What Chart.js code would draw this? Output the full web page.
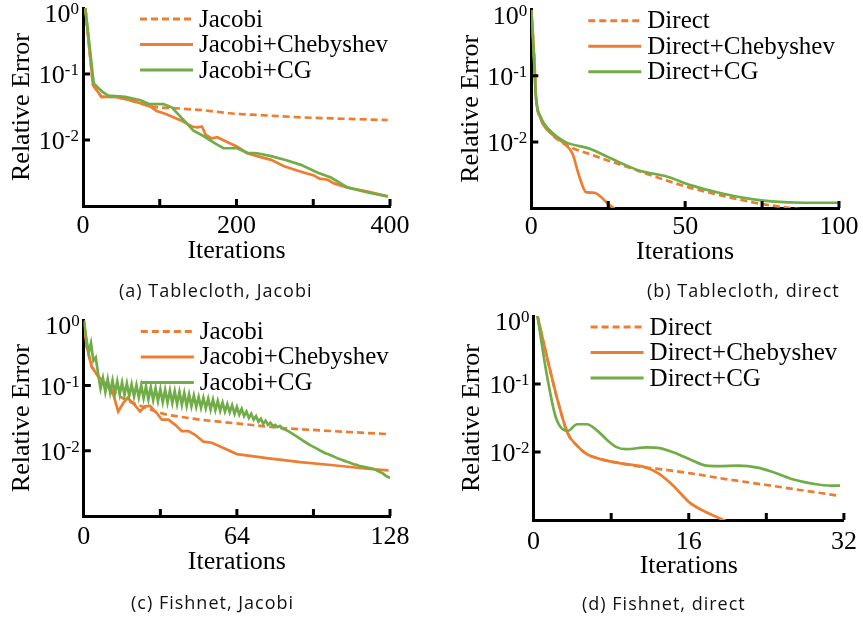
<!DOCTYPE html>
<html>
<head>
<meta charset="utf-8">
<script src="https://cdn.jsdelivr.net/npm/chart.js@4.4.1/dist/chart.umd.min.js"></script>
<style>
  html, body { margin: 0; padding: 0; background: #fff; }
  #page { position: relative; width: 863px; height: 619px; overflow: hidden; }
  canvas { position: absolute; }
  .cap { position: absolute; font: 18px 'Open Sans', Lato, sans-serif; letter-spacing: 1px; color: #111; white-space: nowrap; line-height: 20px; }
</style>
</head>
<body>
<div id="page">
  <canvas id="chartA" width="430" height="300" style="left:0;top:0"></canvas>
  <canvas id="chartB" width="433" height="300" style="left:430px;top:0"></canvas>
  <canvas id="chartC" width="430" height="319" style="left:0;top:300px"></canvas>
  <canvas id="chartD" width="433" height="319" style="left:430px;top:300px"></canvas>
  <div class="cap" style="left:119px;top:280px">(a) Tablecloth, Jacobi</div>
  <div class="cap" style="left:647px;top:280px">(b) Tablecloth, direct</div>
  <div class="cap" style="left:131px;top:592px">(c) Fishnet, Jacobi</div>
  <div class="cap" style="left:582px;top:593px">(d) Fishnet, direct</div>
</div>
<script>
const ORANGE = '#ED7D31';
const GREEN  = '#70AD47';
const SERIF  = "'Liberation Serif', 'Times New Roman', serif";

// ── Shared y axis ─────────────────────────────────────────────
const yTickValues    = [1, 0.1, 0.01];
const yTickExponents = ['0', '-1', '-2'];
const yTickMarks     = [0.1, 0.01];

// ── (a) Tablecloth, Jacobi ────────────────────────────────────
const aTickLabels = [0, 200, 400];
const aTickMarks  = [100, 200, 300, 400];
const aJacobiIter = [3, 13, 24, 42, 55, 75, 88, 100, 127, 160, 197, 240, 284, 340, 397];
const aJacobiErr  = [1.0, 0.068, 0.045, 0.045, 0.042, 0.036, 0.032, 0.031, 0.030, 0.028, 0.025, 0.0235, 0.022, 0.021, 0.020];
const aChebIter   = [3, 13, 24, 42, 55, 75, 88, 96, 107, 127, 142, 149, 155, 160, 168, 175, 183, 201, 214, 227, 245, 262, 284, 301, 308, 319, 327, 345, 371, 397];
const aChebErr    = [1.0, 0.068, 0.045, 0.045, 0.042, 0.036, 0.032, 0.0275, 0.025, 0.020, 0.016, 0.0155, 0.016, 0.0119, 0.0106, 0.011, 0.0099, 0.0079, 0.0063, 0.0057, 0.005, 0.0040, 0.0033, 0.0029, 0.0026, 0.0025, 0.0022, 0.0019, 0.00165, 0.0014];
const aCgIter     = [3, 14, 25, 33, 55, 75, 86, 105, 116, 133, 144, 157, 172, 183, 201, 214, 227, 245, 266, 284, 306, 323, 345, 371, 397];
const aCgErr      = [1.0, 0.072, 0.054, 0.047, 0.045, 0.040, 0.035, 0.035, 0.031, 0.019, 0.0138, 0.0115, 0.0089, 0.0075, 0.0075, 0.0064, 0.0063, 0.0057, 0.0049, 0.0042, 0.0032, 0.0027, 0.0019, 0.0016, 0.0014];

// ── (b) Tablecloth, direct ────────────────────────────────────
const bTickLabels = [0, 50, 100];
const bTickMarks  = [25, 50, 75, 100];
const bDirectIter = [0, 1, 1.5, 3, 6, 11, 20, 31, 42, 52, 63, 74, 88, 100];
const bDirectErr  = [1.0, 0.17, 0.05, 0.023, 0.014, 0.0092, 0.0063, 0.0042, 0.0028, 0.0020, 0.0015, 0.00117, 0.00095, 0.0008];
const bChebIter   = [0, 1, 1.5, 3, 6, 11, 13.4, 15.6, 17.8, 20.5, 22.6, 24.8, 27.5, 30];
const bChebErr    = [1.0, 0.17, 0.05, 0.023, 0.014, 0.0092, 0.0066, 0.0030, 0.00174, 0.0017, 0.00148, 0.00117, 0.00093, 0.0007];
const bCgIter     = [0, 1, 1.5, 3, 6, 11, 19, 26, 35, 44, 52, 61, 70, 78, 89, 100];
const bCgErr      = [1.0, 0.137, 0.048, 0.024, 0.015, 0.010, 0.0079, 0.0056, 0.0037, 0.0030, 0.0022, 0.0017, 0.0014, 0.00126, 0.0012, 0.0012];

// ── (c) Fishnet, Jacobi ───────────────────────────────────────
const cTickLabels = [0, 64, 128];
const cTickMarks  = [32, 64, 96, 128];
const cJacobiIter = [0, 1.2, 3.3, 6.1, 9.6, 12.4, 16, 20, 25, 30, 35, 48.6, 62.5, 83.5, 104.4, 127.4];
const cJacobiErr  = [1.0, 0.40, 0.195, 0.137, 0.103, 0.08, 0.065, 0.055, 0.047, 0.040, 0.0355, 0.030, 0.0266, 0.0222, 0.020, 0.018];
const cChebIter   = [0, 1.2, 3.3, 6.1, 9.6, 12.4, 14.4, 16.5, 18.3, 21.4, 23.5, 25.6, 27.7, 30.5, 32.6, 35.4, 38.2, 41, 43.8, 46.5, 50, 53.5, 58.4, 64, 76.5, 90.5, 104.4, 118.4, 127.4];
const cChebErr    = [1.0, 0.40, 0.195, 0.137, 0.103, 0.072, 0.040, 0.054, 0.065, 0.050, 0.040, 0.048, 0.049, 0.038, 0.030, 0.030, 0.025, 0.020, 0.020, 0.0176, 0.0138, 0.0133, 0.011, 0.0089, 0.0077, 0.0067, 0.0060, 0.0053, 0.0050];
// one value per iteration, 0..128
const cCgErr = [
  1.0, 0.55, 0.32, 0.45, 0.24, 0.27, 0.15, 0.09,
  0.13, 0.08, 0.125, 0.078, 0.12, 0.076, 0.116, 0.074, 0.112, 0.072, 0.108, 0.07,
  0.105, 0.068, 0.102, 0.066, 0.10, 0.064, 0.097, 0.062, 0.094, 0.060,
  0.091, 0.058, 0.088, 0.056, 0.086, 0.055, 0.084, 0.054, 0.082, 0.052,
  0.080, 0.051, 0.077, 0.049, 0.073, 0.048, 0.07, 0.047, 0.067, 0.046,
  0.065, 0.045, 0.063, 0.043, 0.061, 0.042, 0.058, 0.041, 0.055, 0.040,
  0.052, 0.039, 0.05, 0.037, 0.047, 0.036, 0.044, 0.034, 0.04, 0.032,
  0.037, 0.030, 0.034, 0.028, 0.031, 0.026, 0.029, 0.025, 0.027, 0.024,
  0.025, 0.023, 0.024, 0.022, 0.0213, 0.0205, 0.0195, 0.0185, 0.0175, 0.0166,
  0.0156, 0.0148, 0.0140, 0.0133, 0.0126, 0.0120, 0.0115, 0.0110, 0.0105, 0.0100,
  0.0096, 0.0092, 0.0089, 0.0086, 0.0083, 0.0080, 0.0077, 0.0075, 0.0072, 0.0070,
  0.0068, 0.0066, 0.0064, 0.0062, 0.0061, 0.0059, 0.0058, 0.0057, 0.0056, 0.0055,
  0.0054, 0.0053, 0.0051, 0.0049, 0.0047, 0.0045, 0.0042, 0.0040, 0.0038
];

// ── (d) Fishnet, direct ───────────────────────────────────────
const dTickLabels = [0, 16, 32];
const dTickMarks  = [8, 16, 24, 32];
const dDirectIter = [0.4, 1.5, 2.5, 3.5, 4.5, 5.5, 7.0, 9.0, 11.6, 13, 16.4, 19.8, 23.2, 26.5, 31.2];
const dDirectErr  = [1.0, 0.21, 0.056, 0.019, 0.0123, 0.0093, 0.0078, 0.0068, 0.0059, 0.0056, 0.0048, 0.0040, 0.0034, 0.0029, 0.0023];
const dChebIter   = [0.4, 1.5, 2.5, 3.5, 4.5, 5.5, 7.0, 9.0, 11.6, 12.9, 14.4, 16.1, 17.8, 20.1, 22];
const dChebErr    = [1.0, 0.21, 0.056, 0.019, 0.0123, 0.0093, 0.0078, 0.0068, 0.0059, 0.0048, 0.0032, 0.0018, 0.0013, 0.00093, 0.0007];
const dCgIter     = [0.4, 1.3, 2.3, 3.5, 4.5, 5.5, 6.5, 7.7, 8.5, 9.5, 11.7, 13, 14.4, 16.1, 17.8, 19.1, 21.1, 23.1, 24.8, 26.9, 28.9, 30.6, 31.6];
const dCgErr      = [1.0, 0.154, 0.032, 0.0204, 0.0256, 0.0256, 0.021, 0.0145, 0.0119, 0.011, 0.0117, 0.0114, 0.0099, 0.0078, 0.0063, 0.0062, 0.0063, 0.0059, 0.0050, 0.0039, 0.0034, 0.0032, 0.0032];

// ── Helpers ───────────────────────────────────────────────────
const pts = (xs, ys) => xs.map((x, i) => ({ x, y: ys[i] }));

function series(label, xs, ys, color, dashed, order, smooth) {
  return {
    label,
    data: pts(xs, ys),
    borderColor: color,
    borderWidth: 2.7,
    borderDash: dashed ? [7, 4] : [],
    pointRadius: 0,
    fill: false,
    order,
    tension: 0,
    cubicInterpolationMode: smooth ? 'monotone' : 'default',
  };
}

// inward tick marks + 10^n labels
const axisDecor = {
  id: 'axisDecor',
  afterDraw(chart, args, opts) {
    const { ctx, chartArea: ca, scales: { x, y } } = chart;
    ctx.save();
    ctx.strokeStyle = '#000';
    ctx.lineWidth = 3;
    ctx.beginPath();
    for (const v of opts.xMarks) {
      const px = x.getPixelForValue(v);
      ctx.moveTo(px, ca.bottom);
      ctx.lineTo(px, ca.bottom - 7);
    }
    for (const v of yTickMarks) {
      const py = y.getPixelForValue(v);
      ctx.moveTo(ca.left, py);
      ctx.lineTo(ca.left + 7, py);
    }
    ctx.stroke();

    ctx.fillStyle = '#000';
    ctx.textAlign = 'right';
    ctx.textBaseline = 'alphabetic';
    yTickValues.forEach((v, i) => {
      const py = Math.max(y.getPixelForValue(v), ca.top + 5);
      const right = ca.left - 4;
      ctx.font = `17px ${SERIF}`;
      const ew = ctx.measureText(yTickExponents[i]).width;
      ctx.fillText(yTickExponents[i], right, py + 1);
      ctx.font = `26px ${SERIF}`;
      ctx.fillText('10', right - ew, py + 9);
    });
    ctx.restore();
  }
};

// legend drawn inside the plot area
const innerLegend = {
  id: 'innerLegend',
  afterDatasetsDraw(chart) {
    const { ctx, chartArea: ca } = chart;
    ctx.save();
    chart.data.datasets.forEach((ds, i) => {
      const yy = ca.top + 11 + i * 25.5;
      ctx.strokeStyle = ds.borderColor;
      ctx.lineWidth = 3;
      ctx.setLineDash(ds.borderDash);
      ctx.beginPath();
      ctx.moveTo(ca.left + 57, yy);
      ctx.lineTo(ca.left + 110, yy);
      ctx.stroke();
      ctx.setLineDash([]);
      ctx.fillStyle = '#000';
      ctx.font = `25px ${SERIF}`;
      ctx.textAlign = 'left';
      ctx.textBaseline = 'middle';
      ctx.fillText(ds.label, ca.left + 116, yy + 1);
    });
    ctx.restore();
  }
};

function makeChart(id, g, datasets, xMax, xLabels, xMarks) {
  const padL = Math.max(0, g.yTitleX - 22);
  return new Chart(document.getElementById(id), {
    type: 'line',
    data: { datasets },
    options: {
      responsive: false,
      animation: false,
      events: [],
      layout: { padding: { left: padL, top: g.T, right: g.W - g.R, bottom: 0 } },
      plugins: {
        legend: { display: false },
        tooltip: { enabled: false },
        axisDecor: { xMarks },
      },
      scales: {
        x: {
          type: 'linear',
          min: 0,
          max: xMax,
          afterBuildTicks: (s) => { s.ticks = xLabels.map(v => ({ value: v })); },
          afterFit: (s) => { s.height = g.H - g.B; },
          grid: { display: false, drawTicks: false },
          border: { color: '#000', width: 3 },
          ticks: {
            color: '#000',
            font: { family: SERIF, size: 26 },
            padding: g.xLabelY - g.B - 15.6,
            maxRotation: 0,
            autoSkip: false,
          },
          title: {
            display: true,
            text: 'Iterations',
            color: '#000',
            font: { family: SERIF, size: 26 },
            padding: { top: 0, bottom: g.H - 15.6 - g.xTitleY },
          },
        },
        y: {
          type: 'logarithmic',
          min: 0.001,
          max: 1,
          afterFit: (s) => { s.width = g.L - padL; },
          grid: { display: false, drawTicks: false },
          border: { color: '#000', width: 3 },
          ticks: { display: false },
          title: {
            display: true,
            text: 'Relative Error',
            color: '#000',
            font: { family: SERIF, size: 26 },
            padding: { top: g.yTitleX - padL - 15.6, bottom: 0 },
          },
        },
      },
    },
    plugins: [axisDecor, innerLegend],
  });
}

// ── Build ─────────────────────────────────────────────────────
makeChart('chartA',
  { W: 430, H: 300, L: 83, R: 390, T: 8, B: 206, yTitleX: 22, xTitleY: 251.5, xLabelY: 226 },
  [
    series('Jacobi', aJacobiIter, aJacobiErr, ORANGE, true, 2, false),
    series('Jacobi+Chebyshev', aChebIter, aChebErr, ORANGE, false, 1, false),
    series('Jacobi+CG', aCgIter, aCgErr, GREEN, false, 0, false),
  ], 400, aTickLabels, aTickMarks);

makeChart('chartB',
  { W: 433, H: 300, L: 101.3, R: 409, T: 9.7, B: 208, yTitleX: 41, xTitleY: 252, xLabelY: 226.7 },
  [
    series('Direct', bDirectIter, bDirectErr, ORANGE, true, 2, true),
    series('Direct+Chebyshev', bChebIter, bChebErr, ORANGE, false, 1, true),
    series('Direct+CG', bCgIter, bCgErr, GREEN, false, 0, true),
  ], 100, bTickLabels, bTickMarks);

makeChart('chartC',
  { W: 430, H: 319, L: 83.8, R: 390, T: 20.4, B: 216, yTitleX: 21.7, xTitleY: 261.7, xLabelY: 237.5 },
  [
    series('Jacobi', cJacobiIter, cJacobiErr, ORANGE, true, 2, false),
    series('Jacobi+Chebyshev', cChebIter, cChebErr, ORANGE, false, 1, false),
    series('Jacobi+CG', cCgErr.map((_, i) => i), cCgErr, GREEN, false, 0, false),
  ], 128, cTickLabels, cTickMarks);

makeChart('chartD',
  { W: 433, H: 319, L: 103.6, R: 421, T: 16, B: 220, yTitleX: 41.7, xTitleY: 266, xLabelY: 241.7 },
  [
    series('Direct', dDirectIter, dDirectErr, ORANGE, true, 2, true),
    series('Direct+Chebyshev', dChebIter, dChebErr, ORANGE, false, 1, true),
    series('Direct+CG', dCgIter, dCgErr, GREEN, false, 0, true),
  ], 32, dTickLabels, dTickMarks);
</script>
</body>
</html>
